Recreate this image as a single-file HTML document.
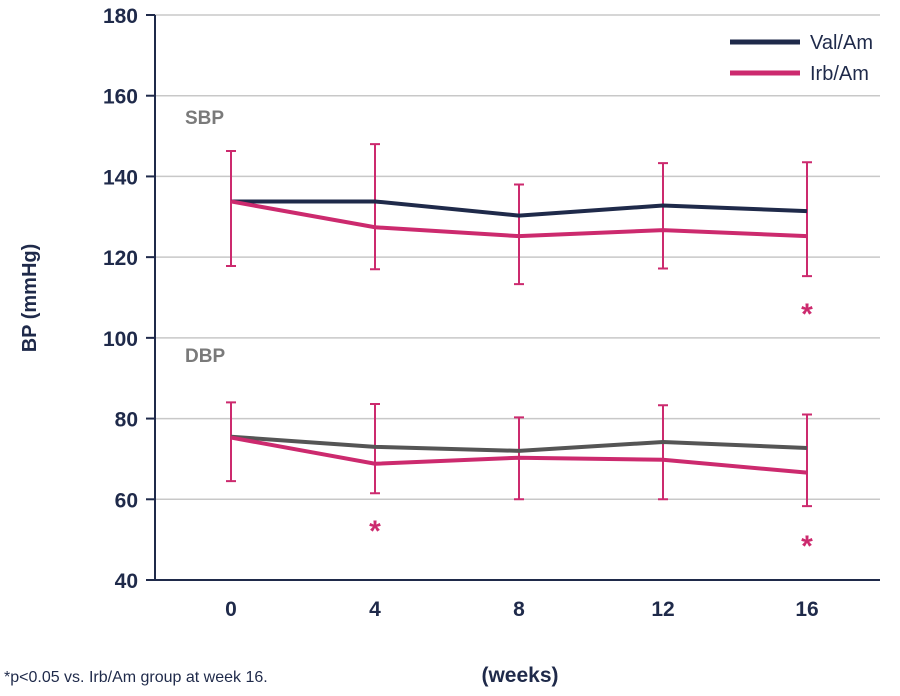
<!DOCTYPE html>
<html><head><meta charset="utf-8"><style>
body{margin:0;background:#fff;}
svg text{font-family:"Liberation Sans",sans-serif;}
</style></head><body>
<svg id="chart" width="900" height="691" viewBox="0 0 900 691" xmlns="http://www.w3.org/2000/svg">
<g id="grid"></g><g id="axes"></g><g id="series"></g>
<text x="185" y="124" font-size="19" font-weight="bold" fill="#7a7a7a">SBP</text>
<text x="185" y="362" font-size="19" font-weight="bold" fill="#7a7a7a">DBP</text>
<text transform="translate(36,298) rotate(-90)" text-anchor="middle" font-size="20" font-weight="bold" fill="#1f2a4a">BP (mmHg)</text>
<text x="520" y="682" text-anchor="middle" font-size="21" font-weight="bold" fill="#1f2a4a">(weeks)</text>
<text x="4" y="682" font-size="16" fill="#1f2a4a">*p&lt;0.05 vs. Irb/Am group at week 16.</text>
<g>
<line x1="730" y1="42" x2="800" y2="42" stroke="#1f2a4a" stroke-width="5"/>
<text x="810" y="49" font-size="20" fill="#1f2a4a">Val/Am</text>
<line x1="730" y1="73" x2="800" y2="73" stroke="#cc2a6e" stroke-width="5"/>
<text x="810" y="80" font-size="20" fill="#1f2a4a">Irb/Am</text>
</g>
</svg>
<script>
const weeks=[0,4,8,12,16];
const yTicks=[40,60,80,100,120,140,160,180];
const sbpVal=[133.8,133.8,130.3,132.8,131.4];
const sbpIrb=[133.8,127.4,125.2,126.7,125.2];
const sbpIrbHi=[146.3,148,138,143.3,143.5];
const sbpIrbLo=[117.8,117,113.3,117.2,115.3];
const dbpVal=[75.5,73,72,74.2,72.7];
const dbpIrb=[75.3,68.8,70.3,69.8,66.6];
const dbpIrbHi=[84,83.6,80.3,83.3,81];
const dbpIrbLo=[64.5,61.5,60,60,58.3];
const sigMarks=[[16,108.2],[4,54.4],[16,50.7]];
const X=w=>231+w*36, Y=v=>580-(v-40)*(565/140);
const NS="http://www.w3.org/2000/svg";
function mk(parent,tag,attrs){const e=document.createElementNS(NS,tag);for(const k in attrs)e.setAttribute(k,attrs[k]);document.getElementById(parent).appendChild(e);return e;}
yTicks.forEach(t=>{
 if(t>40){const l=mk('grid','line',{x1:155,x2:880,y1:Y(t),y2:Y(t),stroke:'#c8c8c8','stroke-width':1.5});
 
 }
 const tx=mk('axes','text',{x:138,y:Y(t)+8,'text-anchor':'end','font-size':21,'font-weight':'bold',fill:'#1f2a4a'});tx.textContent=t;
 
 
 const tk=mk('axes','line',{x1:146,x2:155,y1:Y(t),y2:Y(t),stroke:'#1f2a4a','stroke-width':2});
 
 
});
const ya=mk('axes','line',{x1:155,x2:155,y1:Y(180),y2:Y(40),stroke:'#1f2a4a','stroke-width':2});


const xa=mk('axes','line',{x1:155,x2:880,y1:Y(40),y2:Y(40),stroke:'#1f2a4a','stroke-width':2});


weeks.forEach(w=>{const t=mk('axes','text',{x:X(w),y:616,'text-anchor':'middle','font-size':21,'font-weight':'bold',fill:'#1f2a4a'});t.textContent=w;
 
 });
function bars(hi,lo,name){weeks.forEach((w,i)=>{
 const g=mk('series','path',{d:`M${X(w)} ${Y(hi[i])}V${Y(lo[i])}M${X(w)-5} ${Y(hi[i])}h10M${X(w)-5} ${Y(lo[i])}h10`,stroke:'#cc2a6e','stroke-width':2,fill:'none'});
 
 });}
function line(vals,col,name){const p=mk('series','polyline',{points:weeks.map((w,i)=>X(w)+','+Y(vals[i])).join(' '),stroke:col,'stroke-width':4,fill:'none'});
 
 }
bars(sbpIrbHi,sbpIrbLo,'sbp-irb');bars(dbpIrbHi,dbpIrbLo,'dbp-irb');
line(dbpVal,'#555555','dbp-val-line');line(dbpIrb,'#cc2a6e','dbp-irb-line');
line(sbpVal,'#1f2a4a','sbp-val-line');line(sbpIrb,'#cc2a6e','sbp-irb-line');
sigMarks.forEach((m,i)=>{const t=mk('series','text',{x:X(m[0]),y:Y(m[1])+19,'text-anchor':'middle','font-size':30,'font-weight':'bold',fill:'#cc2a6e'});t.textContent='*';
 
 });
</script>
</body></html>
